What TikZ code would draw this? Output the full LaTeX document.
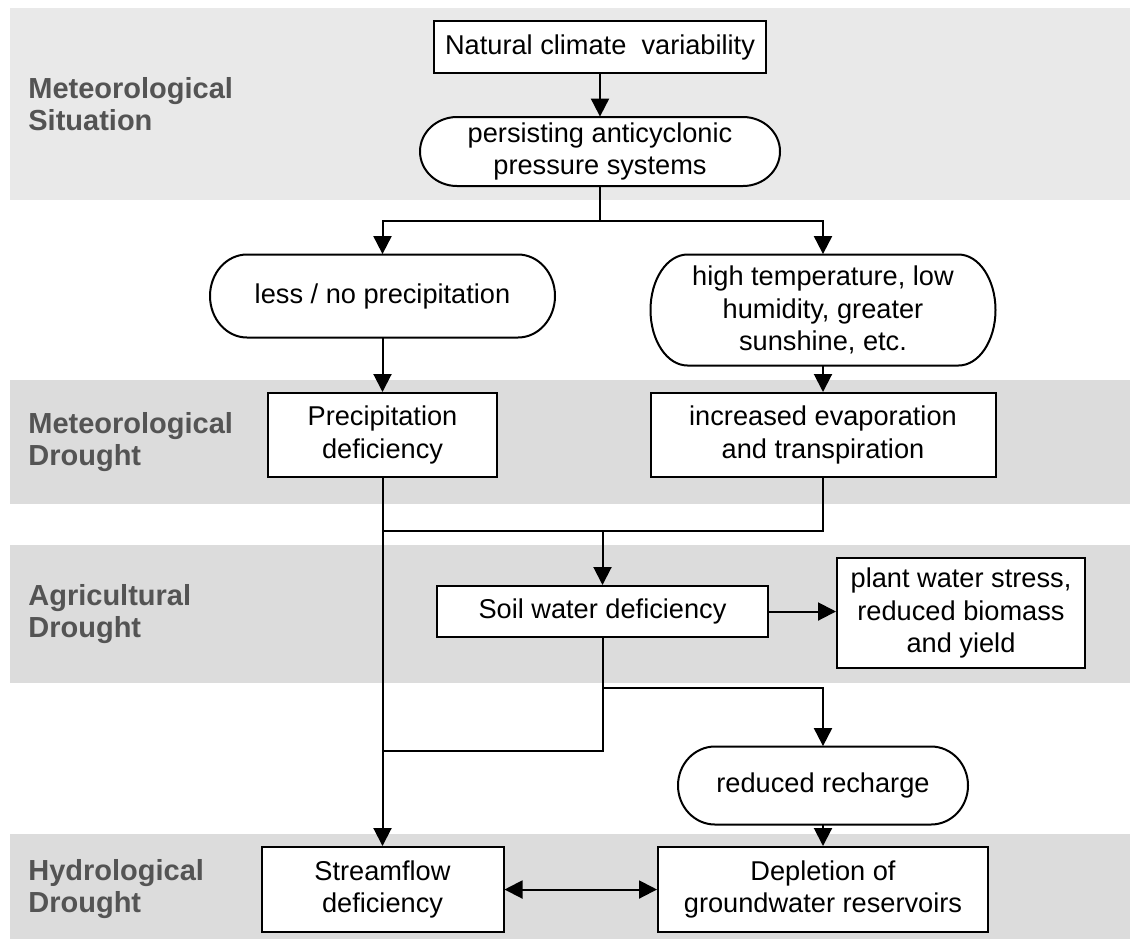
\documentclass[tikz,border=0pt]{standalone}
\usepackage{fontspec}
\setmainfont{Liberation Sans}
\usetikzlibrary{arrows.meta}
\definecolor{bandA}{HTML}{E9E9E9}
\definecolor{bandB}{HTML}{DCDCDC}
\definecolor{labelgray}{HTML}{545454}
% pill outline: cx, cy, w, h, rx (all in px)
\newcommand{\pilloutline}[5]{%
  \draw[line width=1pt,fill=white]
    ({#1-#3/2+#5},{#2-#4/2}) -- ({#1+#3/2-#5},{#2-#4/2})
    arc[start angle=90,end angle=-90,x radius={#5*0.5pt},y radius={#4*0.25pt}]
    -- ({#1-#3/2+#5},{#2+#4/2})
    arc[start angle=270,end angle=90,x radius={#5*0.5pt},y radius={#4*0.25pt}]
    -- cycle;}
\begin{document}
\begin{tikzpicture}[x=0.5pt,y=-0.5pt,
  txt/.style={inner sep=0pt,align=center,
    font=\fontsize{13.6pt}{16.25pt}\selectfont},
  box/.style={txt,draw=black,line width=1pt,fill=white},
  pilltext/.style={txt,draw=none,fill=none},
  lbl/.style={anchor=west,align=left,text=labelgray,inner sep=0pt,
    font=\fontsize{14.5pt}{16pt}\selectfont\bfseries},
  conn/.style={line width=1pt,draw=black},
  arr/.style={conn,-{Triangle[length=9pt,width=9pt]}},
  darr/.style={conn,{Triangle[length=9pt,width=9pt]}-{Triangle[length=9pt,width=9pt]}}]
\useasboundingbox (0,0) rectangle (1130,939);
% bands
\fill[bandA] (10,8) rectangle (1130,200);
\fill[bandB] (10,380) rectangle (1130,504);
\fill[bandB] (10,545) rectangle (1130,683);
\fill[bandB] (10,834) rectangle (1130,939);
% band labels
\node[lbl] (l1) at (28,104) {Meteorological\\Situation};
\node[lbl] (l2) at (28,442) {Meteorological\\Drought};
\node[lbl] (l3) at (28,614) {Agricultural\\Drought};
\node[lbl] (l4) at (28,889) {Hydrological\\Drought};
% pill outlines
\pilloutline{600}{151.5}{360}{69}{37}
\pilloutline{382.5}{296}{345}{83}{37}
\pilloutline{823}{310}{345}{111}{37}
\pilloutline{823}{785.5}{290}{78}{37}
% nodes
\node[box,minimum width=166pt,minimum height=26pt] (nat) at (600,47) {Natural climate\ \ variability};
\node[pilltext,minimum width=180pt,minimum height=34.5pt] (pers) at (600,151.5) {persisting anticyclonic\\pressure systems};
\node[pilltext,minimum width=172.5pt,minimum height=41.5pt] (less) at (382.5,296) {less / no precipitation};
\node[pilltext,minimum width=172.5pt,minimum height=55.5pt] (high) at (823,310) {high temperature, low\\humidity, greater\\sunshine, etc.};
\node[box,minimum width=114.5pt,minimum height=42pt] (prec) at (382.5,435) {Precipitation\\deficiency};
\node[box,minimum width=172.5pt,minimum height=42pt] (evap) at (823,435) {increased evaporation\\and transpiration};
\node[box,minimum width=165.5pt,minimum height=25.5pt] (soil) at (602.5,611.5) {Soil water deficiency};
\node[box,minimum width=124pt,minimum height=55pt] (plant) at (961,613) {plant water stress,\\reduced biomass\\and yield};
\node[pilltext,minimum width=145pt,minimum height=39pt] (rech) at (823,785.5) {reduced recharge};
\node[box,minimum width=121pt,minimum height=42.5pt] (stream) at (382.5,889.5) {Streamflow\\deficiency};
\node[box,minimum width=165pt,minimum height=42.5pt] (depl) at (823,889.5) {Depletion of\\groundwater reservoirs};
% junction coordinates
\coordinate (b1) at (600,221);
\coordinate (m1) at (602.5,531);
\coordinate (m2) at (602.5,688);
\coordinate (j3) at (382.5,751);
% connectors
\draw[arr] (nat) -- (pers);
\draw[conn] (pers.south) -- (b1);
\draw[arr] (b1) -| (less.north);
\draw[arr] (b1) -| (high.north);
\draw[arr] (less) -- (prec);
\draw[arr] (high) -- (evap);
\draw[arr] (prec) -- (stream);
\draw[conn] (evap.south) |- (prec.south |- m1);
\draw[arr] (m1) -- (soil.north);
\draw[arr] (soil.east) -- (plant.west |- soil.east);
\draw[conn] (soil.south) |- (j3);
\draw[arr] (m2) -| (rech.north);
\draw[arr] (rech) -- (depl);
\draw[darr] (stream) -- (depl);
\end{tikzpicture}
\end{document}
